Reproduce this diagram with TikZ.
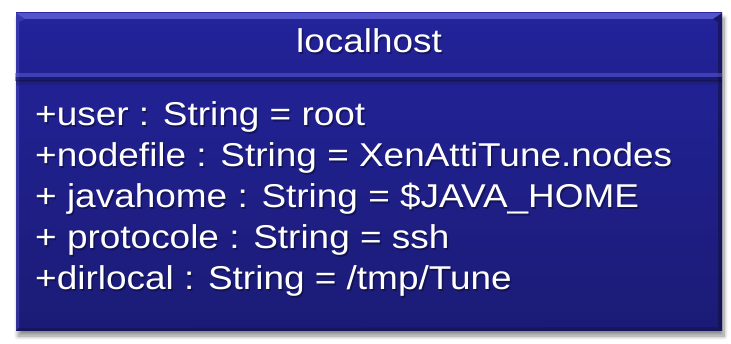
\documentclass[tikz,border=0pt]{standalone}
\usepackage{fontspec}
\setmainfont{Liberation Sans}[FakeStretch=1.12]
\usetikzlibrary{shadows.blur,positioning}
\definecolor{boxblue}{RGB}{35,35,155}
\definecolor{boxdark}{RGB}{27,27,118}
\definecolor{bevlight}{RGB}{95,95,215}
\definecolor{bevdark}{RGB}{15,15,60}

\begin{document}
\begin{tikzpicture}[x=1pt,y=-1pt,
    label/.style={inner sep=0pt,text=white,font=\fontsize{33}{40}\selectfont},
    labelshadow/.style={label,text=black,opacity=0.35}]
  \useasboundingbox (0,0) rectangle (731,344);
  \def\left{16}
  \def\right{722}
  \def\top{13}
  \def\bot{331}
  \def\sep{77}
  %Box with drop shadow
  \path[blur shadow={shadow xshift=2pt,shadow yshift=-5pt,shadow blur steps=10,shadow blur radius=4pt,shadow opacity=45},
    fill=boxblue] (\left,\top) rectangle (\right,\bot);
  \shade[top color=boxblue,bottom color=boxblue!94!black] (\left,\top) rectangle (\right,\sep);
  \shade[top color=boxblue!96!black,bottom color=boxdark] (\left,\sep) rectangle (\right,\bot);
  %Bevel edges
  \fill[bevlight,opacity=0.8] (\left,\top) -- (\right,\top) -- (\right-9,\top+6) -- (\left+9,\top+6) -- cycle;
  \fill[bevlight,opacity=0.35] (\left,\top) -- (\left+9,\top+6) -- (\left+3,\top+9) -- (\left+3,\bot-3) -- (\left,\bot) -- cycle;
  \fill[bevdark,opacity=0.55] (\right,\top) -- (\right,\bot) -- (\right-4,\bot-4) -- (\right-4,\top+9) -- (\right-9,\top+6) -- cycle;
  \fill[bevdark,opacity=0.4] (\left,\bot) -- (\right,\bot) -- (\right-4,\bot-4) -- (\left+3,\bot-3) -- cycle;
  %Separator between name and attributes
  \fill[bevlight,opacity=0.5] (\left-1,\sep-4) rectangle (\right,\sep);
  \fill[bevdark,opacity=0.4] (\left-1,\sep) rectangle (\right,\sep+4);
  \shade[top color=bevdark,bottom color=boxblue,opacity=0.35] (\left,\sep+4) rectangle (\right,\sep+9);
  %Class name
  \node[labelshadow,anchor=base] (nameshadow) at (370.5,54.5) {localhost};
  \node[label,anchor=base] (name) at (369,53) {localhost};
  %Attributes
  \foreach \txt [count=\i] in {%
      {+user : String = root},
      {+nodefile : String = XenAttiTune.nodes},
      {+ javahome : String = \$JAVA\_HOME},
      {+ protocole : String = ssh},
      {+dirlocal : String = /tmp/Tune}} {
    \pgfmathsetmacro{\y}{126+41*(\i-1)} % baseline of the line
    \node[labelshadow,anchor=base west] (s\i) at (36.5,\y+1.5) {\txt};
    \node[label,anchor=base west] (a\i) at (35,\y) {\txt};
  }
\end{tikzpicture}
\end{document}
